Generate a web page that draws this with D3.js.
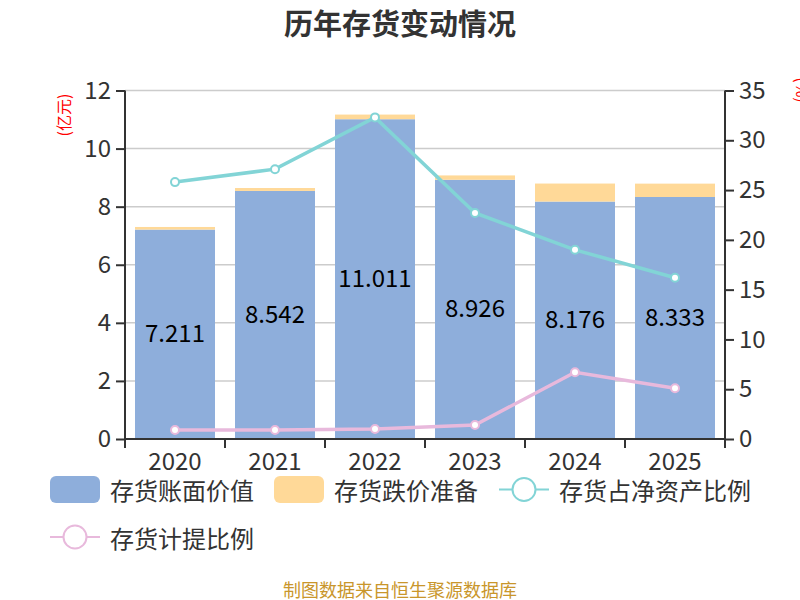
<!DOCTYPE html>
<html><head><meta charset="utf-8">
<script src="https://cdn.jsdelivr.net/npm/d3@7/dist/d3.min.js"></script>
<style>body{margin:0;background:#fff;}svg{display:block;font-family:"Noto Sans CJK SC","Noto Sans",sans-serif;}</style>
</head><body><svg id="c" width="800" height="600"></svg>
<script>
const years = ["2020","2021","2022","2023","2024","2025"];
const bookValue = [7.211, 8.542, 11.011, 8.926, 8.176, 8.333];
const impairment = [0.09, 0.10, 0.16, 0.15, 0.62, 0.46];
const ratioNetAssets = [25.8, 27.1, 32.3, 22.7, 19.0, 16.2];
const provisionRatio = [0.9, 0.9, 1.0, 1.4, 6.7, 5.1];
const leftTicks = [0, 2, 4, 6, 8, 10, 12];
const rightTicks = [0, 5, 10, 15, 20, 25, 30, 35];

const C = {blue:"#8eaedb", yellow:"#ffd998", teal:"#82d4d6", pink:"#e8b9dc", axis:"#333", grid:"#cccccc"};
const FONT = '"Noto Sans CJK SC","Noto Sans",sans-serif';
const svg = d3.select("#c");
const L = 125, R = 725, T = 90.5, B = 439;

const x = d3.scaleBand().domain(years).range([L, R]).paddingInner(0.2).paddingOuter(0.1);
const xb = d3.scaleBand().domain(years).range([L, R]);
const yL = d3.scaleLinear().domain([0, 12]).range([B, T]);
const yR = d3.scaleLinear().domain([0, 35]).range([B, T]);

// title
svg.append("text").attr("x", 400).attr("y", 22).attr("text-anchor", "middle").attr("dominant-baseline", "central")
  .attr("font-size", 29).attr("font-weight", "bold").attr("fill", "#333").text("历年存货变动情况");

// grid
svg.append("g").selectAll("line").data(leftTicks).join("line")
  .attr("x1", L).attr("x2", R).attr("y1", d => yL(d)).attr("y2", d => yL(d))
  .attr("stroke", C.grid).attr("stroke-width", 1.5);

// bars
const bars = svg.append("g");
bars.selectAll("rect.b").data(years).join("rect").attr("class","b")
  .attr("x", d => x(d)).attr("width", x.bandwidth())
  .attr("y", (d,i) => yL(bookValue[i])).attr("height", (d,i) => yL(0) - yL(bookValue[i]))
  .attr("fill", C.blue);
bars.selectAll("rect.y").data(years).join("rect").attr("class","y")
  .attr("x", d => x(d)).attr("width", x.bandwidth())
  .attr("y", (d,i) => yL(bookValue[i] + impairment[i])).attr("height", (d,i) => yL(bookValue[i]) - yL(bookValue[i] + impairment[i]))
  .attr("fill", C.yellow);
bars.selectAll("text").data(years).join("text")
  .attr("x", d => x(d) + x.bandwidth()/2)
  .attr("y", (d,i) => (yL(bookValue[i]) + yL(0))/2 - 2.5)
  .attr("text-anchor","middle").attr("dominant-baseline","central")
  .attr("font-size", 24).attr("fill", "#000")
  .text((d,i) => bookValue[i].toFixed(3));

// axes
const axL = svg.append("g").attr("transform", `translate(${L},0)`)
  .call(d3.axisLeft(yL).tickValues(leftTicks).tickSize(9).tickPadding(5).tickFormat(d3.format("d")));
const axR = svg.append("g").attr("transform", `translate(${R},0)`)
  .call(d3.axisRight(yR).tickValues(rightTicks).tickSize(9).tickPadding(5).tickFormat(d3.format("d")));
const axB = svg.append("g").attr("transform", `translate(0,${B})`)
  .call(d3.axisBottom(xb).tickSize(0).tickPadding(14));
// x ticks at band boundaries
svg.append("g").selectAll("line").data(years.concat(["end"])).join("line")
  .attr("x1", (d,i) => L + i*xb.step()).attr("x2", (d,i) => L + i*xb.step())
  .attr("y1", B).attr("y2", B + 9).attr("stroke", C.axis).attr("stroke-width", 2);
[axL, axR, axB].forEach(a => {
  a.select(".domain").attr("stroke", C.axis).attr("stroke-width", 2);
  a.selectAll(".tick line").attr("stroke", C.axis).attr("stroke-width", 2);
  a.selectAll(".tick text").attr("font-size", 24).attr("fill", "#333").attr("font-family", FONT);
});
axL.select(".domain").attr("d", `M0,${T}V${B}`);
axR.select(".domain").attr("d", `M0,${T}V${B}`);
axB.select(".domain").attr("d", `M${L},0H${R}`);

// axis unit labels
svg.append("text").attr("transform", "translate(63,115) rotate(-90)")
  .attr("text-anchor","middle").attr("dominant-baseline","central")
  .attr("font-size", 16).attr("fill", "#ff0000").text("(亿元)");
svg.append("text").attr("transform", "translate(803,90) rotate(90)")
  .attr("text-anchor","middle").attr("dominant-baseline","central")
  .attr("font-size", 16).attr("fill", "#ff0000").text("(%)");

// lines
function drawLine(vals, color) {
  const line = d3.line().x((d,i) => xb(years[i]) + xb.bandwidth()/2).y(d => yR(d));
  svg.append("path").datum(vals).attr("d", line).attr("fill","none")
    .attr("stroke", color).attr("stroke-width", 3.5);
  svg.append("g").selectAll("circle").data(vals).join("circle")
    .attr("cx", (d,i) => xb(years[i]) + xb.bandwidth()/2).attr("cy", d => yR(d))
    .attr("r", 4).attr("fill", "#fff").attr("stroke", color).attr("stroke-width", 2);
}
drawLine(ratioNetAssets, C.teal);
drawLine(provisionRatio, C.pink);

// legend
const lg = svg.append("g").attr("font-size", 24).attr("fill", "#333");
function rectItem(x0, y0, color, label) {
  lg.append("rect").attr("x", x0).attr("y", y0 - 13.5).attr("width", 50).attr("height", 27).attr("rx", 6).attr("fill", color);
  lg.append("text").attr("x", x0 + 60).attr("y", y0).attr("dominant-baseline","central").attr("fill","#333").text(label);
}
function lineItem(x0, y0, color, label) {
  lg.append("line").attr("x1", x0).attr("x2", x0 + 50).attr("y1", y0).attr("y2", y0).attr("stroke", color).attr("stroke-width", 2);
  lg.append("circle").attr("cx", x0 + 25).attr("cy", y0).attr("r", 11.5).attr("fill", "#fff").attr("stroke", color).attr("stroke-width", 2);
  lg.append("text").attr("x", x0 + 60).attr("y", y0).attr("dominant-baseline","central").attr("fill","#333").text(label);
}
rectItem(50, 489.5, C.blue, "存货账面价值");
rectItem(274, 489.5, C.yellow, "存货跌价准备");
lineItem(499, 489.5, C.teal, "存货占净资产比例");
lineItem(50, 537, C.pink, "存货计提比例");

// footer
svg.append("text").attr("x", 400).attr("y", 589).attr("text-anchor","middle").attr("dominant-baseline","central")
  .attr("font-size", 18).attr("fill", "#c9962b").text("制图数据来自恒生聚源数据库");
</script></body></html>
